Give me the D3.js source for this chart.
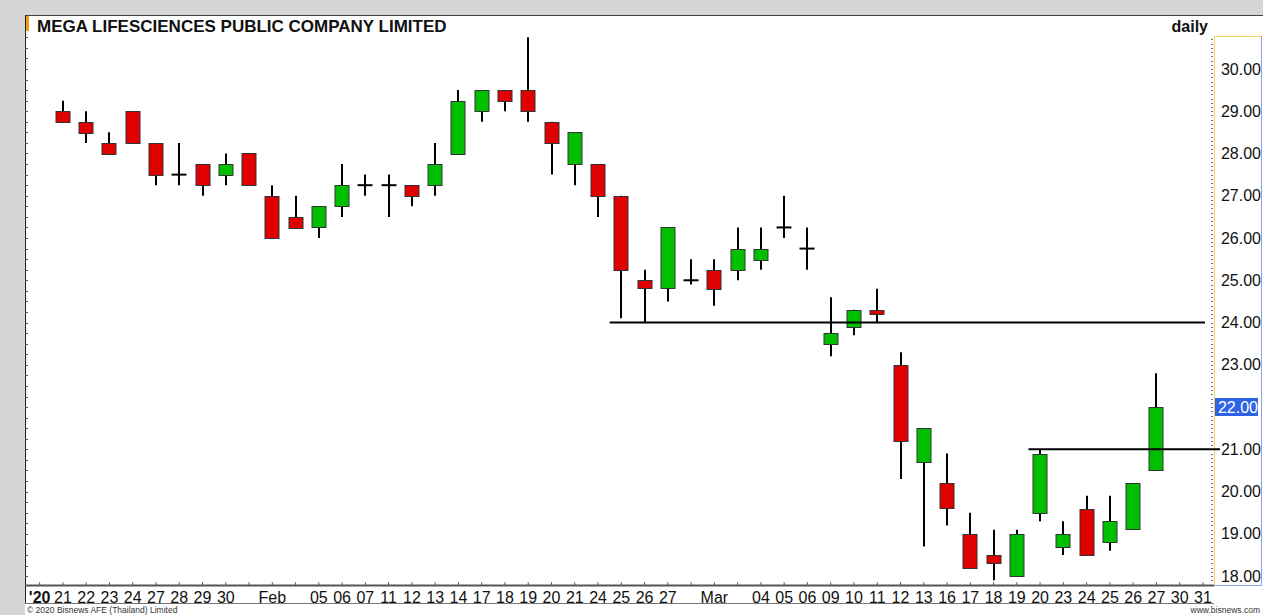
<!DOCTYPE html>
<html>
<head>
<meta charset="utf-8">
<script src="https://cdn.jsdelivr.net/npm/d3@7/dist/d3.min.js"></script>
<style>
  body { margin: 0; background: #d6d6d6; }
  svg { display: block; font-family: "Liberation Sans", Arial, sans-serif; }
</style>
</head>
<body>
<div id="chart"></div>
<script>
var title = "MEGA LIFESCIENCES PUBLIC COMPANY LIMITED";

// every trading day on the axis, some without a candle
var slots = ["01-20","01-21","01-22","01-23","01-24","01-27","01-28","01-29","01-30","01-31",
             "02-03","02-04","02-05","02-06","02-07","02-11","02-12","02-13","02-14","02-17",
             "02-18","02-19","02-20","02-21","02-24","02-25","02-26","02-27","02-28",
             "03-02","03-03","03-04","03-05","03-06","03-09","03-10","03-11","03-12","03-13",
             "03-16","03-17","03-18","03-19","03-20","03-23","03-24","03-25","03-26","03-27",
             "03-30","03-31"];
var slotLabels = ["'20","21","22","23","24","27","28","29","30","",
                  "Feb","","05","06","07","11","12","13","14","17",
                  "18","19","20","21","24","25","26","27","",
                  "Mar","","04","05","06","09","10","11","12","13",
                  "16","17","18","19","20","23","24","25","26","27",
                  "30","31"];

// daily candles
var dates = ["01-21","01-22","01-23","01-24","01-27","01-28","01-29","01-30","01-31",
             "02-03","02-04","02-05","02-06","02-07","02-11","02-12","02-13","02-14","02-17",
             "02-18","02-19","02-20","02-21","02-24","02-25","02-26","02-27","02-28",
             "03-02","03-03","03-04","03-05","03-06","03-09","03-10","03-11","03-12","03-13",
             "03-16","03-17","03-18","03-19","03-20","03-23","03-24","03-25","03-26","03-27"];
var open  = [29.00,28.75,28.25,29.00,28.25,27.50,27.75,27.50,28.00,
             27.00,26.50,26.25,26.75,27.25,27.25,27.25,27.25,28.00,29.00,
             29.50,29.50,28.75,27.75,27.75,27.00,25.00,24.80,25.00,
             25.25,25.25,25.50,26.25,25.75,23.50,23.90,24.30,23.00,20.70,
             20.20,19.00,18.50,18.00,19.50,18.70,19.60,18.80,19.10,20.50];
var high  = [29.25,29.00,28.50,29.00,28.25,28.25,27.75,28.00,28.00,
             27.25,27.00,26.75,27.75,27.50,27.50,27.25,28.25,29.50,29.50,
             29.50,30.75,28.75,28.50,27.75,27.00,25.25,26.25,25.50,
             25.50,26.25,26.25,27.00,26.25,24.60,24.30,24.80,23.30,21.50,
             20.90,19.50,19.10,19.10,21.00,19.30,19.90,19.90,20.20,22.80];
var low   = [28.75,28.25,28.00,28.25,27.25,27.25,27.00,27.25,27.25,
             26.00,26.25,26.00,26.50,27.00,26.50,26.75,27.00,28.00,28.75,
             29.00,28.75,27.50,27.25,26.50,24.10,24.00,24.50,24.90,
             24.40,25.00,25.25,26.00,25.25,23.20,23.70,24.00,20.30,18.70,
             19.20,18.20,17.90,18.00,19.30,18.50,18.50,18.60,19.10,20.50];
var close = [28.75,28.50,28.00,28.25,27.50,27.50,27.25,27.75,27.25,
             26.00,26.25,26.75,27.25,27.25,27.25,27.00,27.75,29.25,29.50,
             29.25,29.00,28.25,28.50,27.00,25.25,24.80,26.25,25.00,
             24.80,25.75,25.75,26.25,25.75,23.75,24.30,24.20,21.20,21.50,
             19.60,18.20,18.30,19.00,20.90,19.00,18.50,19.30,20.20,22.00];

var yTicks = [18,19,20,21,22,23,24,25,26,27,28,29,30];
var lastPrice = 22.00;

// horizontal support / resistance lines
var levels = [24.00, 21.00];
var levelFrom = ["02-25", "03-20"];
var levelTo = ["03-31", null];   // null = run into the price axis

(function() {

    var plotLeft = 25, plotRight = 1214, plotTop = 36, plotBottom = 585;

    var svg = d3.select("#chart")
            .append("svg")
            .attr("width", 1263)
            .attr("height", 615);

    /*
        white panel + frame
    */
    svg.append("rect")
       .attr("x", plotLeft).attr("y", 15)
       .attr("width", 1263 - plotLeft).attr("height", 600)
       .attr("fill", "#fff");

    svg.append("line")
       .attr("x1", plotLeft).attr("x2", 1263).attr("y1", 15.5).attr("y2", 15.5)
       .attr("stroke", "#444").attr("stroke-width", 1);

    svg.append("line")
       .attr("x1", plotLeft + 0.5).attr("x2", plotLeft + 0.5).attr("y1", 15).attr("y2", 604)
       .attr("stroke", "#222").attr("stroke-width", 1);

    svg.append("rect")
       .attr("x", plotLeft + 1).attr("y", 16)
       .attr("width", 3).attr("height", 15)
       .attr("fill", "#f39c12");

    svg.append("text")
       .attr("x", 37).attr("y", 32)
       .attr("font-size", 17).attr("font-weight", "bold")
       .attr("fill", "#111")
       .text(title);

    svg.append("text")
       .attr("x", 1208).attr("y", 32)
       .attr("text-anchor", "end")
       .attr("font-size", 16).attr("font-weight", "bold")
       .attr("fill", "#111")
       .text("daily");

    /*
        scales
    */
    var x = d3.scaleBand()
              .domain(slots)
              .range([28, plotRight + 0.6])
              .padding(0);

    var y = d3.scaleLinear()
              .domain([17.79, 30.78])
              .range([plotBottom, plotTop]);

    var cx = function(d) { return Math.round(x(d) + x.bandwidth() / 2); };

    // small ticks along the left border every 0.25
    svg.append("g")
       .selectAll("line")
       .data(d3.range(18, 30.76, 0.25))
       .enter().append("line")
       .attr("x1", plotLeft).attr("x2", plotLeft + 3)
       .attr("y1", function(d) { return Math.round(y(d)) + 0.5; })
       .attr("y2", function(d) { return Math.round(y(d)) + 0.5; })
       .attr("stroke", "#555");

    // dotted ticks beside the price axis every 0.1
    svg.append("g")
       .selectAll("line")
       .data(d3.range(17.8, 30.8, 0.1))
       .enter().append("line")
       .attr("x1", plotRight - 3).attr("x2", plotRight - 1)
       .attr("y1", function(d) { return Math.round(y(d)) + 0.5; })
       .attr("y2", function(d) { return Math.round(y(d)) + 0.5; })
       .attr("stroke", "#777");

    /*
        price axis box
    */
    svg.append("line")
       .attr("x1", plotRight + 0.5).attr("x2", plotRight + 0.5).attr("y1", plotTop).attr("y2", plotBottom)
       .attr("stroke", "#f2d36b");
    svg.append("line")
       .attr("x1", plotRight).attr("x2", 1262).attr("y1", plotTop + 0.5).attr("y2", plotTop + 0.5)
       .attr("stroke", "#f2d36b");
    svg.append("line")
       .attr("x1", 1261.5).attr("x2", 1261.5).attr("y1", plotTop).attr("y2", plotBottom)
       .attr("stroke", "#8f9ff0");
    svg.append("line")
       .attr("x1", plotRight).attr("x2", 1262).attr("y1", plotBottom + 0.5).attr("y2", plotBottom + 0.5)
       .attr("stroke", "#8f9ff0");

    // the last price label sits on top of its own tick, so skip that tick text
    var yAxis = svg.append("g")
       .attr("transform", "translate(" + plotRight + ",0)")
       .call(d3.axisRight(y)
               .tickValues(yTicks.filter(function(d) { return d != lastPrice; }))
               .tickFormat(d3.format(".2f"))
               .tickSize(0));

    yAxis.select(".domain").remove();
    yAxis.selectAll("text")
         .attr("x", 47)
         .attr("text-anchor", "end")
         .attr("font-family", "Liberation Sans, Arial, sans-serif")
         .attr("font-size", 16)
         .attr("fill", "#111");

    // last price marker
    svg.append("rect")
       .attr("x", plotRight + 1).attr("y", Math.round(y(lastPrice)) - 9)
       .attr("width", 43).attr("height", 18)
       .attr("fill", "#2f63e6");
    svg.append("text")
       .attr("x", plotRight + 44).attr("y", y(lastPrice))
       .attr("dy", "0.35em")
       .attr("text-anchor", "end")
       .attr("font-size", 16)
       .attr("fill", "#fff")
       .text(d3.format(".2f")(lastPrice));

    /*
        date axis
    */
    var xAxis = svg.append("g")
       .attr("transform", "translate(0," + plotBottom + ")")
       .call(d3.axisBottom(x).tickFormat(function(d, i) { return slotLabels[i]; }).tickSize(-3).tickPadding(7));

    xAxis.select(".domain").remove();
    xAxis.selectAll(".tick line").attr("stroke", "#666");
    xAxis.selectAll("text")
         .attr("font-family", "Liberation Sans, Arial, sans-serif")
         .attr("font-size", 16)
         .attr("fill", "#111")
         .attr("font-weight", function(d, i) { return i == 0 ? "bold" : "normal"; });

    svg.append("line")
       .attr("x1", plotLeft).attr("x2", plotRight).attr("y1", plotBottom + 0.5).attr("y2", plotBottom + 0.5)
       .attr("stroke", "#555").attr("stroke-width", 2);
    svg.append("line")
       .attr("x1", plotLeft).attr("x2", plotRight).attr("y1", 603.5).attr("y2", 603.5)
       .attr("stroke", "#777");

    svg.append("text")
       .attr("x", 27).attr("y", 613)
       .attr("font-size", 8.5).attr("fill", "#333")
       .text("\u00a9 2020 Bisnews AFE (Thailand) Limited");
    svg.append("text")
       .attr("x", 1260).attr("y", 613)
       .attr("text-anchor", "end")
       .attr("font-size", 8.5).attr("fill", "#333")
       .text("www.bisnews.com");

    /*
        candles
    */
    var candles = dates.map(function(d, i) {
        return {date: d, open: open[i], high: high[i], low: low[i], close: close[i]};
    });

    var bw = Math.round(x.bandwidth() * 0.64);

    var g = svg.append("g");

    g.selectAll(".wick")
     .data(candles)
     .enter().append("line")
     .attr("class", "wick")
     .attr("x1", function(d) { return cx(d.date); })
     .attr("x2", function(d) { return cx(d.date); })
     .attr("y1", function(d) { return y(d.high); })
     .attr("y2", function(d) { return y(d.low); })
     .attr("stroke", "#000")
     .attr("stroke-width", 2);

    g.selectAll(".body")
     .data(candles.filter(function(d) { return d.open != d.close; }))
     .enter().append("rect")
     .attr("class", "body")
     .attr("x", function(d) { return cx(d.date) - bw / 2 + 0.5; })
     .attr("y", function(d) { return Math.round(y(Math.max(d.open, d.close))) + 0.5; })
     .attr("width", bw - 1)
     .attr("height", function(d) { return Math.max(1, Math.round(y(Math.min(d.open, d.close)) - y(Math.max(d.open, d.close)))); })
     .attr("fill", function(d) { return d.close > d.open ? "#00bf00" : "#e00000"; })
     .attr("stroke", "#333")
     .attr("stroke-width", 1);

    g.selectAll(".doji")
     .data(candles.filter(function(d) { return d.open == d.close; }))
     .enter().append("line")
     .attr("class", "doji")
     .attr("x1", function(d) { return cx(d.date) - bw / 2; })
     .attr("x2", function(d) { return cx(d.date) + bw / 2; })
     .attr("y1", function(d) { return y(d.close); })
     .attr("y2", function(d) { return y(d.close); })
     .attr("stroke", "#000")
     .attr("stroke-width", 2);

    /*
        level lines
    */
    svg.selectAll(".level")
       .data(levels)
       .enter().append("line")
       .attr("class", "level")
       .attr("x1", function(d, i) { return x(levelFrom[i]); })
       .attr("x2", function(d, i) { return levelTo[i] ? cx(levelTo[i]) + 2 : plotRight + 6; })
       .attr("y1", function(d) { return y(d); })
       .attr("y2", function(d) { return y(d); })
       .attr("stroke", "#000")
       .attr("stroke-width", 2);

})();
</script>
</body>
</html>
